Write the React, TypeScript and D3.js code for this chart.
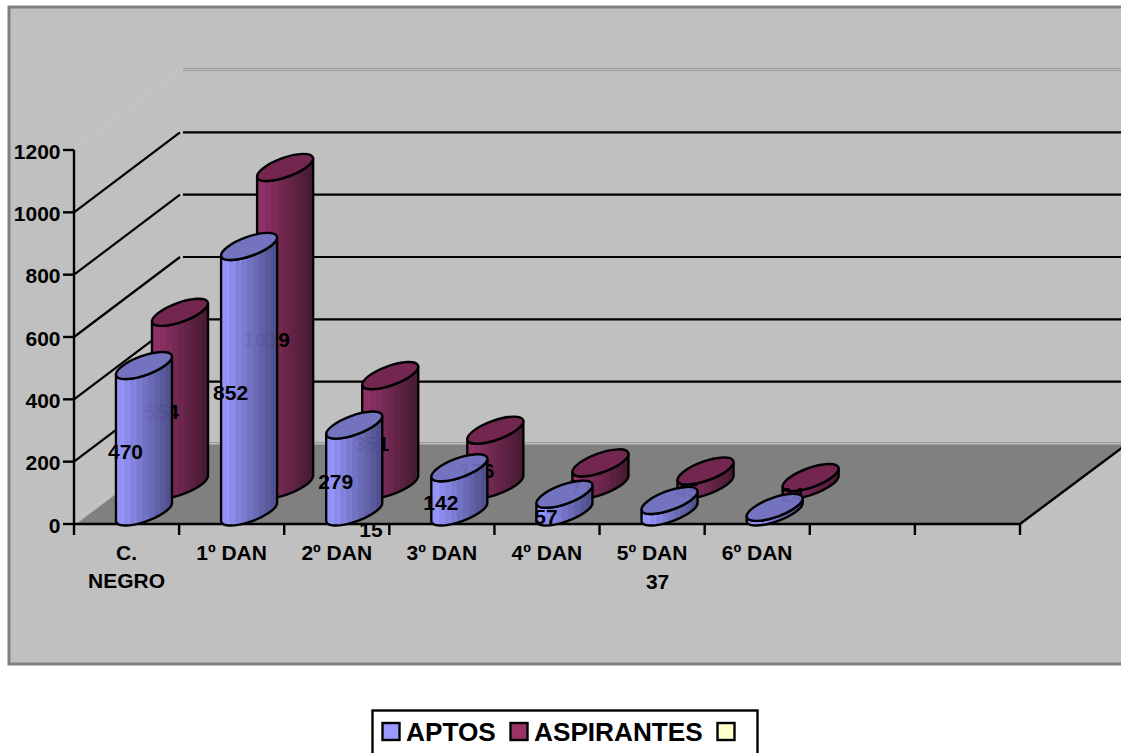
import React from "react";
import * as d3 from "d3";

const categories = [["C.", "NEGRO"], ["1º DAN"], ["2º DAN"], ["3º DAN"], ["4º DAN"], ["5º DAN"], ["6º DAN"]];
const slotCount = 9;
const aptos = [470, 852, 279, 142, 57, 37, 15];
const aspirantes = [554, 1019, 351, 176, 71, 45, 24];
const yTicks = [0, 200, 400, 600, 800, 1000, 1200];
const legendItems = ["APTOS", "ASPIRANTES", ""];

const W = 1121, H = 753;
const x = d3.scaleLinear().domain([0, slotCount]).range([74, 1020]);
const y = d3.scaleLinear().domain([0, 1200]).range([524, 150]);
const DX = 107, DY = 80;
const FONT = "'Liberation Sans', Arial, sans-serif";

// Tilted ellipse used for the cylinder caps
const RX = 29.6, RY = 9.6, TILT = -20;
const th = (TILT * Math.PI) / 180;
const ext = Math.sqrt(RX * RX * Math.cos(th) ** 2 + RY * RY * Math.sin(th) ** 2);
const tan = ((RX * RX - RY * RY) * Math.sin(th) * Math.cos(th)) / ext;

const bodyPath = (cx: number, base: number, top: number) =>
  `M${cx - ext},${top - tan}L${cx - ext},${base - tan}` +
  `A${RX},${RY} ${TILT} 1 0 ${cx + ext},${base + tan}` +
  `L${cx + ext},${top + tan}` +
  `A${RX},${RY} ${TILT} 1 1 ${cx - ext},${top - tan}Z`;

const gradStops = (c0: string, c1: string) => {
  const ip = d3.interpolateRgb(c0, c1);
  const n = 28;
  const out: { o: number; c: string }[] = [];
  d3.range(n).forEach((i) => {
    const col = d3.color(ip(i / (n - 1)))!;
    const shade = i % 3 === 0 ? col.brighter(0.1) : i % 3 === 1 ? col.darker(0.03) : col;
    out.push({ o: i / n, c: shade.formatHex() });
    out.push({ o: (i + 1) / n, c: shade.formatHex() });
  });
  return out;
};

const seriesDefs = [
  { id: "asp", values: aspirantes, cxOff: 106, baseOff: 39, c0: "#93336a", c1: "#451a30", top: "#732650" },
  { id: "apt", values: aptos, cxOff: 70, baseOff: 12, c0: "#9999ff", c1: "#4d4d8a", top: "#7373c0" },
];

const labelStyle = { fontFamily: FONT, fontWeight: 700, fontSize: 21, fill: "#000" } as const;

function Column({ cx, base, top, id, capFill }: any) {
  return (
    <g stroke="#000" strokeWidth={2.4} strokeLinejoin="round">
      <path d={bodyPath(cx, base, top)} fill={`url(#${id})`} />
      <ellipse cx={cx} cy={top} rx={RX} ry={RY} transform={`rotate(${TILT} ${cx} ${top})`} fill={capFill} />
    </g>
  );
}

function Series({ s }: any) {
  return (
    <g>
      {s.values.map((v: number, i: number) => {
        const cx = x(i) + s.cxOff;
        const base = y(0) - s.baseOff;
        const top = base - (y(0) - y(v));
        return <Column key={i} cx={cx} base={base} top={top} id={s.id} capFill={s.top} />;
      })}
    </g>
  );
}

function Labels({ s, opacity = 1 }: any) {
  return (
    <g opacity={opacity}>
      {s.values.map((v: number, i: number) => {
        const cx = x(i) + s.cxOff;
        const base = y(0) - s.baseOff;
        const top = base - (y(0) - y(v));
        let lx = cx - 18.5;
        let ly = (base + top) / 2 + 13;
        if (s.id === "apt" && v === 37) { lx = x(i) + 58; ly = 581; }
        if (s.id === "apt" && v === 15) { lx = 371; ly = 529; }
        return (
          <text key={i} x={lx} y={ly + 7.5} textAnchor="middle" style={labelStyle}>{v}</text>
        );
      })}
    </g>
  );
}

export default function App() {
  const [asp, apt] = seriesDefs;
  const backX = x(0) + DX;
  return (
    <svg width={W} height={H} viewBox={`0 0 ${W} ${H}`} style={{ position: "absolute", left: 0, top: 0, display: "block", background: "#fff" }}>
      <defs>
        {seriesDefs.map((s) => (
          <linearGradient key={s.id} id={s.id} x1="0" x2="1" y1="0" y2="0">
            {gradStops(s.c0, s.c1).map((st, i) => (
              <stop key={i} offset={st.o} stopColor={st.c} />
            ))}
          </linearGradient>
        ))}
      </defs>

      {/* chart area */}
      <rect x={9} y={7} width={1300} height={657} fill="#c0c0c0" stroke="#808080" strokeWidth={3} />

      {/* floor */}
      <polygon
        points={`${x(0)},${y(0)} ${backX},${y(0) - DY} ${x(slotCount) + DX},${y(0) - DY} ${x(slotCount)},${y(0)}`}
        fill="#808080"
      />

      {/* gridlines */}
      {yTicks.map((t) => {
        const yy = y(t);
        const pale = t === 0 || t === 1200;
        if (pale) {
          return (
            <g key={t} fill="none">
              <path d={`M${x(0)},${yy}L${backX - 2},${yy - DY + 1}`} stroke="#d4d4d4" strokeWidth={2.4} />
              <path d={`M${x(0)},${yy}L${backX - 2},${yy - DY + 1}`} stroke="#9a9a9a" strokeWidth={0.8} />
              <path d={`M${backX + 2},${yy - DY - 1.5}H${W}`} stroke="#9a9a9a" strokeWidth={1} />
              <path d={`M${backX + 2},${yy - DY + 0.5}H${W}`} stroke="#9a9a9a" strokeWidth={1} />
            </g>
          );
        }
        return (
          <g key={t} stroke="#000" strokeWidth={2.2} fill="none">
            <path d={`M${x(0)},${yy}L${backX - 1},${yy - DY}`} />
            <path d={`M${backX + 2},${yy - DY}H${W}`} />
          </g>
        );
      })}

      {/* axes */}
      <g stroke="#000" strokeWidth={2.4} fill="none">
        <path d={`M${x(0)},${y(1200)}V${y(0)}H${x(slotCount)}L${x(slotCount) + DX},${y(0) - DY}`} />
        {yTicks.map((t) => <path key={t} d={`M${x(0) - 11},${y(t)}H${x(0)}`} />)}
        {d3.range(slotCount + 1).map((i) => <path key={i} d={`M${x(i)},${y(0)}V${y(0) + 11}`} />)}
      </g>
      {yTicks.map((t) => (
        <text key={t} x={60.5} y={y(t) + 8.5} textAnchor="end" style={labelStyle}>{t}</text>
      ))}
      {categories.map((lines, i) => (
        <text key={i} textAnchor="middle" style={labelStyle}>
          {lines.map((l, j) => (
            <tspan key={j} x={x(i) + 52.5} y={560 + j * 28}>{l}</tspan>
          ))}
        </text>
      ))}

      <Series s={asp} />
      <Labels s={asp} />
      <Series s={apt} />
      <Labels s={asp} opacity={0.06} />
      <Labels s={apt} />

      {/* legend */}
      <rect x={372.5} y={710.5} width={385} height={60} fill="#fff" stroke="#000" strokeWidth={2.4} />
      <g stroke="#000" strokeWidth={2.4}>
        <rect x={382.5} y={723} width={17} height={17} fill="#9999ff" />
        <rect x={510.5} y={723} width={17} height={17} fill="#993366" />
        <rect x={717.5} y={723} width={17} height={17} fill="#ffffcc" />
      </g>
      <g style={{ fontFamily: FONT, fontWeight: 700, fontSize: 26.2 }}>
        <text x={406} y={741}>{legendItems[0]}</text>
        <text x={534} y={741}>{legendItems[1]}</text>
      </g>
    </svg>
  );
}
